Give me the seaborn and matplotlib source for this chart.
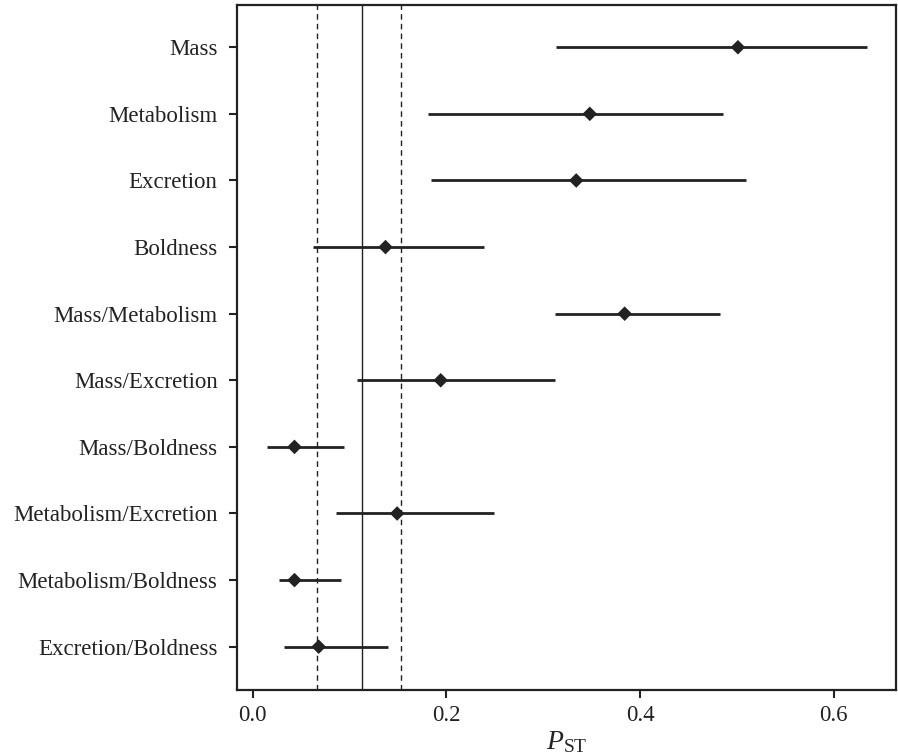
import matplotlib
matplotlib.use("Agg")
import matplotlib.pyplot as plt
import seaborn as sns
import pandas as pd

traits = ["Mass", "Metabolism", "Excretion", "Boldness", "Mass/Metabolism",
          "Mass/Excretion", "Mass/Boldness", "Metabolism/Excretion",
          "Metabolism/Boldness", "Excretion/Boldness"]
pst = [0.501, 0.348, 0.334, 0.137, 0.384, 0.194, 0.043, 0.149, 0.043, 0.068]
ci_low = [0.313, 0.181, 0.184, 0.062, 0.312, 0.108, 0.015, 0.086, 0.027, 0.032]
ci_high = [0.634, 0.486, 0.509, 0.239, 0.482, 0.312, 0.094, 0.249, 0.091, 0.140]
fst_mean = 0.113
fst_low = 0.0666
fst_high = 0.1526

sns.set_style("ticks")
plt.rcParams['font.family'] = ['Liberation Serif', 'DejaVu Serif']
plt.rcParams['mathtext.fontset'] = 'custom'
plt.rcParams['mathtext.rm'] = 'Liberation Serif'
plt.rcParams['mathtext.it'] = 'Liberation Serif:italic'

df = pd.DataFrame({"trait": traits, "pst": pst, "lo": ci_low, "hi": ci_high})

fig = plt.figure(figsize=(8.98, 7.56), dpi=100)
ax = fig.add_axes([0.264, 0.0873, 0.7335, 0.9057])

ax.axvline(fst_mean, color="#222222", lw=1.0, zorder=1)
ax.axvline(fst_low, color="#222222", lw=1.0, ls=(0, (4, 3)), zorder=1)
ax.axvline(fst_high, color="#222222", lw=1.0, ls=(0, (4, 3)), zorder=1)

ax.hlines(y=df["trait"], xmin=df["lo"], xmax=df["hi"], color="#222222", lw=2.0, zorder=2)
sns.scatterplot(data=df, x="pst", y="trait", marker="D", color="#222222", s=55,
                edgecolor="none", ax=ax, zorder=3, legend=False)

ax.set_ylim(9.65, -0.63)
ax.set_xlim(-0.0163, 0.664)
ax.set_xticks([0.0, 0.2, 0.4, 0.6])
ax.set_xticklabels(["0.0", "0.2", "0.4", "0.6"])
ax.set_ylabel("")
ax.set_xlabel(r"$P_{\mathrm{ST}}$", fontsize=20, labelpad=2)
ax.tick_params(axis="both", labelsize=16.5, length=6, width=1.5, color="#222222",
               labelcolor="#222222")
ax.tick_params(axis="y", pad=8)
ax.tick_params(axis="x", pad=5)
for sp in ax.spines.values():
    sp.set_visible(True)
    sp.set_linewidth(1.6)
    sp.set_color("#222222")

fig.savefig("out.png", dpi=100)
